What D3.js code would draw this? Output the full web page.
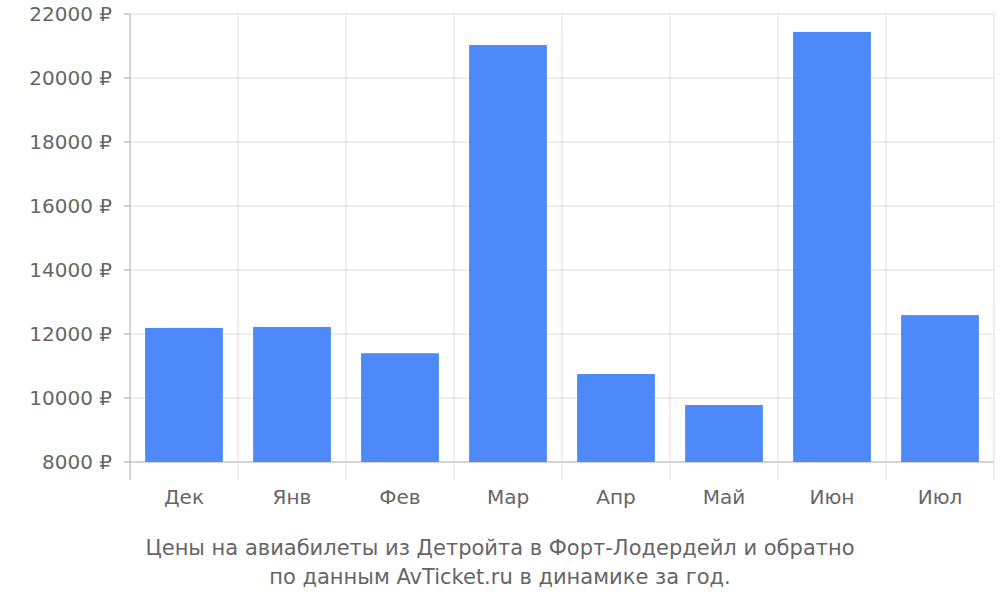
<!DOCTYPE html>
<html><head><meta charset="utf-8">
<script src="https://cdn.jsdelivr.net/npm/d3@7"></script>
<style>body{margin:0;background:#fff}</style></head>
<body><svg id="c" width="1000" height="600"></svg>
<script>
const categories=["Дек","Янв","Фев","Мар","Апр","Май","Июн","Июл"];
const prices=[12190,12220,11400,21030,10750,9780,21440,12590];
const yTicks=[8000,10000,12000,14000,16000,18000,20000,22000];
const titleLines=["Цены на авиабилеты из Детройта в Форт-Лодердейл и обратно","по данным AvTicket.ru в динамике за год."];

const svg=d3.select("#c");
const L=130,R=994,T=14,B=462,AB=480;
const x=d3.scaleBand().domain(categories).range([L,R]).paddingInner(0.28).paddingOuter(0.14);
const xb=d3.scaleBand().domain(categories).range([L,R]);
const y=d3.scaleLinear().domain([8000,22000]).range([B,T]);
const font="DejaVu Sans, sans-serif";

yTicks.forEach(t=>svg.append("line").attr("x1",L).attr("x2",R).attr("y1",y(t)).attr("y2",y(t)).attr("stroke","#ddd").attr("stroke-width",1));
categories.forEach((c,i)=>{const xx=xb(c)+(i?0:0);});
const bounds=categories.map(c=>xb(c)).concat([R]);
bounds.forEach((bx,i)=>{ if(i>0) svg.append("line").attr("x1",bx).attr("x2",bx).attr("y1",T).attr("y2",AB).attr("stroke","#ddd");});
svg.append("line").attr("x1",L).attr("x2",L).attr("y1",T).attr("y2",AB).attr("stroke","#aaa");
svg.append("line").attr("x1",L).attr("x2",R).attr("y1",B).attr("y2",B).attr("stroke","#bbb");
yTicks.forEach(t=>svg.append("line").attr("x1",L-6).attr("x2",L).attr("y1",y(t)).attr("y2",y(t)).attr("stroke","#aaa"));

svg.selectAll("rect.b").data(prices).enter().append("rect")
 .attr("x",(d,i)=>x(categories[i])).attr("width",x.bandwidth())
 .attr("y",d=>y(d)).attr("height",d=>B-y(d)).attr("fill","#4d89f9");

yTicks.forEach(t=>svg.append("text").attr("x",L-18).attr("y",y(t)+7).attr("text-anchor","end")
 .attr("font-family",font).attr("font-size",20).attr("fill","#666").text(t+" ₽"));
categories.forEach(c=>svg.append("text").attr("x",xb(c)+xb.bandwidth()/2).attr("y",504).attr("text-anchor","middle")
 .attr("font-family",font).attr("font-size",20).attr("fill","#666").text(c));
titleLines.forEach((s,i)=>svg.append("text").attr("x",500).attr("y",555+i*29).attr("text-anchor","middle")
 .attr("font-family",font).attr("font-size",21).attr("fill","#666").text(s));
</script></body></html>
